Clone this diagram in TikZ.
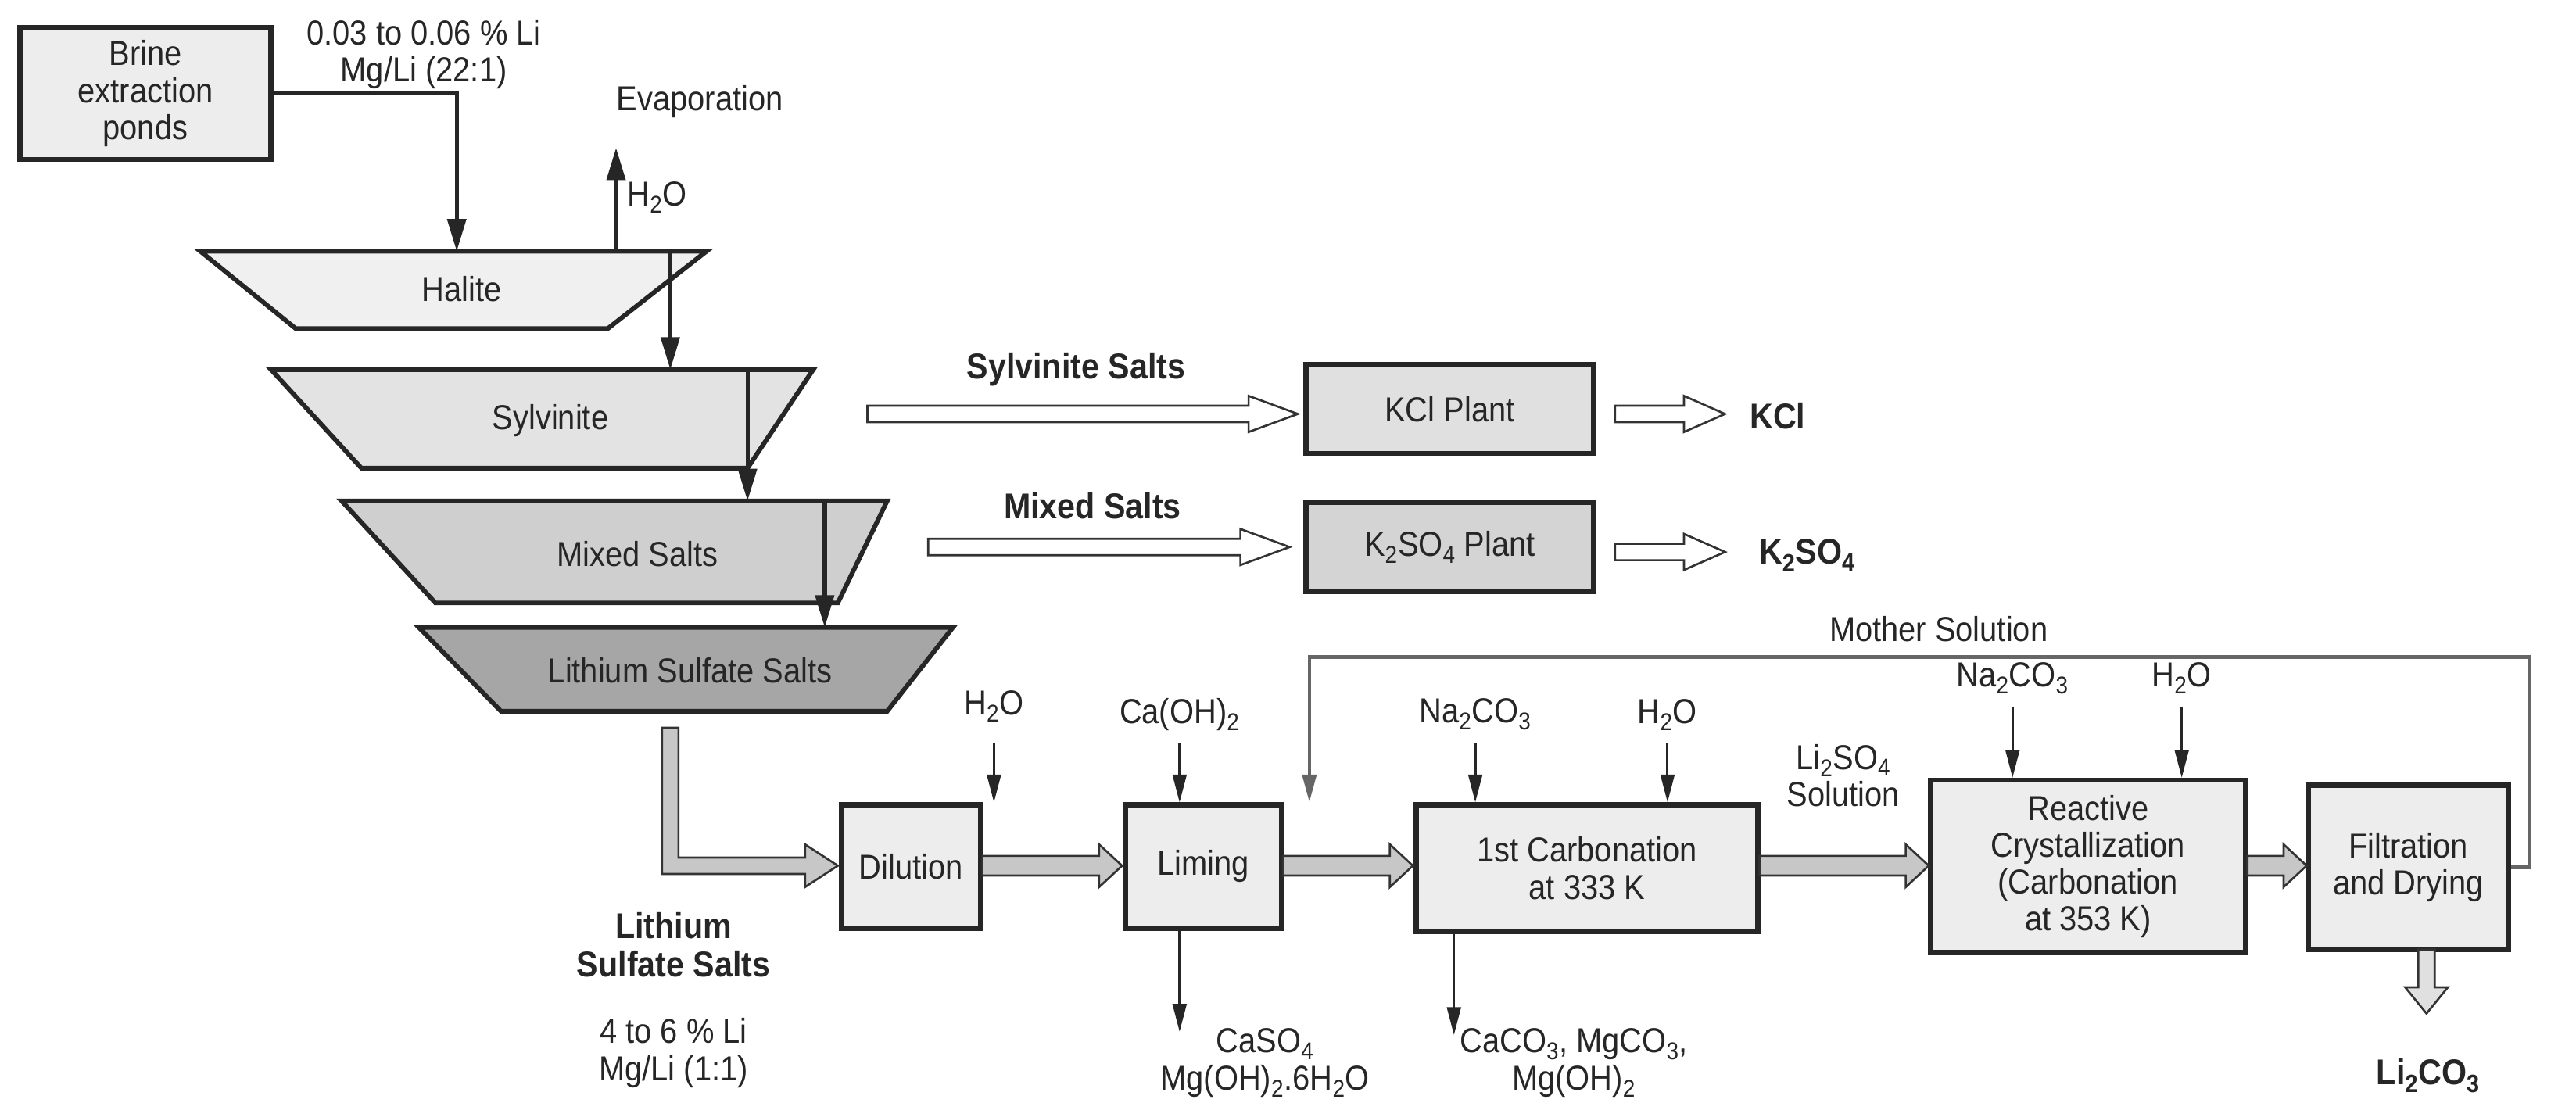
\documentclass[tikz,border=0pt]{standalone}
\usepackage{fontspec}
\setmainfont{Liberation Sans}[FakeStretch=0.9]
\usetikzlibrary{arrows.meta}
\newcommand\sub[1]{\textsubscript{#1}}
\newcommand\blkarrow[7]{% x1,x2,y,half,headhalf,headlen,fill
  \filldraw[fill=#7,draw=black!80,line width=1.8pt] (#1,#3-#4) -- (#2-#6,#3-#4) -- (#2-#6,#3-#5) -- (#2,#3) -- (#2-#6,#3+#5) -- (#2-#6,#3+#4) -- (#1,#3+#4) -- cycle;}
\begin{document}
\begin{tikzpicture}[x=0.05cm,y=-0.05cm,
  every node/.style={font=\fontsize{30}{32}\selectfont,align=center,text=black!85},
  box/.style={draw=black!85,line width=4.5pt,fill=black!7,inner sep=0pt},
  arr/.style={-{Triangle[length=28pt,width=16pt]},line width=3.5pt,black!85},
  tarr/.style={-{Triangle[length=24pt,width=12pt]},line width=2pt,black!85},
  trap/.style={draw=black!85,line width=4pt},
  bold/.style={font=\fontsize{31}{33}\selectfont\bfseries}]
\useasboundingbox (0,0) rectangle (1568,671);
% brine
\node[box,minimum width=153*0.05cm,minimum height=80*0.05cm] (brine) at (88.5,57) {Brine\\extraction\\ponds};
\node (feed) at (258,33) {0.03 to 0.06 \% Li\\Mg/Li (22:1)};
% trapezoids
\filldraw[trap,fill=black!6] (122,153) -- (430,153) -- (370,200) -- (180,200) -- cycle;
\node (hal) at (281,176) {Halite};
\filldraw[trap,fill=black!11] (165,225) -- (495,225) -- (455,285) -- (220,285) -- cycle;
\node (syl) at (335,256) {Sylvinite};
\filldraw[trap,fill=black!19] (208,305) -- (540,305) -- (510,367) -- (265,367) -- cycle;
\node (mix) at (388,337) {Mixed Salts};
\filldraw[trap,fill=black!35] (255,382) -- (580,382) -- (540,433) -- (305,433) -- cycle;
\node (lss) at (420,408) {Lithium Sulfate Salts};
\coordinate (halTop) at (278,153);
\draw[arr] (brine.east) -| (halTop);
\coordinate (evA) at (375,153); \coordinate (evB) at (375,90);
\draw[arr] (evA) -- (evB);
\node (evap) at (426,62) {Evaporation};
\node (h2oev) at (400,120) {H\sub{2}O};
\coordinate (a1) at (408,153); \coordinate (a2) at (408,225);
\draw[arr] (a1) -- (a2);
\coordinate (b1) at (455,225); \coordinate (b2) at (455,305);
\draw[arr] (b1) -- (b2);
\coordinate (c1) at (502,305); \coordinate (c2) at (502,382);
\draw[arr] (c1) -- (c2);
% KCl / K2SO4
\blkarrow{528}{790}{252}{5}{11}{30}{white}
\node[bold] (sylS) at (655,225) {Sylvinite Salts};
\node[box,fill=black!12,minimum width=175*0.05cm,minimum height=54*0.05cm] (kcl) at (882.5,249) {KCl Plant};
\blkarrow{983}{1050}{252}{5}{11}{25}{white}
\node[bold] (kclo) at (1082,253) {KCl};
\blkarrow{565}{785}{333}{5}{11}{30}{white}
\node[bold] (mixS) at (665,308) {Mixed Salts};
\node[box,fill=black!17,minimum width=175*0.05cm,minimum height=54*0.05cm] (k2) at (882.5,333) {K\sub{2}SO\sub{4} Plant};
\blkarrow{983}{1050}{336}{5}{11}{25}{white}
\node[bold] (k2o) at (1100,338) {K\sub{2}SO\sub{4}};
% lower line
\filldraw[fill=black!22,draw=black!80,line width=1.8pt] (403,443) -- (413,443) -- (413,522) -- (490,522) -- (490,514) -- (510,527) -- (490,540) -- (490,532) -- (403,532) -- cycle;
\node[bold] (lssL) at (410,575) {Lithium\\Sulfate Salts};
\node (lssC) at (410,641) {4 to 6 \% Li\\Mg/Li (1:1)};
\node[box,minimum width=85*0.05cm,minimum height=75*0.05cm] (dil) at (554.5,527.5) {Dilution};
\node[box,minimum width=95*0.05cm,minimum height=75*0.05cm] (lim) at (732.5,527.5) {Liming};
\node[box,minimum width=208*0.05cm,minimum height=77*0.05cm] (c1b) at (966,528.5) {1st Carbonation\\at 333 K};
\node[box,minimum width=192*0.05cm,minimum height=105*0.05cm] (rc) at (1271,527.5) {Reactive\\Crystallization\\(Carbonation\\at 353 K)};
\node[box,minimum width=122*0.05cm,minimum height=100*0.05cm] (fil) at (1466,528) {Filtration\\and Drying};
\blkarrow{598}{683}{527}{6}{13}{14}{black!22}
\blkarrow{781}{860}{527}{6}{13}{14}{black!22}
\blkarrow{1071}{1174}{527}{6}{13}{14}{black!22}
\blkarrow{1368}{1404}{527}{6}{13}{14}{black!22}
\node (lso) at (1122,472) {Li\sub{2}SO\sub{4}\\Solution};
% inputs
\node (h2o1) at (605,430) {H\sub{2}O};
\draw[tarr] (605,452) -- (dil.north -| 605,0);
\node (caoh) at (718,435) {Ca(OH)\sub{2}};
\draw[tarr] (718,452) -- (lim.north -| 718,0);
\node (na1) at (898,435) {Na\sub{2}CO\sub{3}};
\draw[tarr] (898,452) -- (c1b.north -| 898,0);
\node (h2o2) at (1015,435) {H\sub{2}O};
\draw[tarr] (1015,452) -- (c1b.north -| 1015,0);
\node (na2) at (1225,413) {Na\sub{2}CO\sub{3}};
\draw[tarr] (1225,430) -- (rc.north -| 1225,0);
\node (h2o3) at (1328,413) {H\sub{2}O};
\draw[tarr] (1328,430) -- (rc.north -| 1328,0);
% outputs
\coordinate (o1) at (718,628);
\draw[tarr] (lim.south -| 718,0) -- (o1);
\node (caso) at (770,647) {CaSO\sub{4}\\Mg(OH)\sub{2}.6H\sub{2}O};
\coordinate (o2) at (885,630);
\draw[tarr] (c1b.south -| 885,0) -- (o2);
\node (caco) at (958,647) {CaCO\sub{3}, MgCO\sub{3},\\Mg(OH)\sub{2}};
\filldraw[fill=black!12,draw=black!80,line width=1.8pt] (1472,578) -- (1482,578) -- (1482,601) -- (1490,601) -- (1477,617) -- (1464,601) -- (1472,601) -- cycle;
\node[bold] (li2) at (1478,655) {Li\sub{2}CO\sub{3}};
% mother solution
\coordinate (m1) at (1540,400); \coordinate (m2) at (797,400);
\draw[tarr,black!60,line width=3pt] (fil.east) -| (m1) -- (m2) -- (lim.north -| 797,0);
\node (moth) at (1180,383) {Mother Solution};
\end{tikzpicture}
\end{document}
